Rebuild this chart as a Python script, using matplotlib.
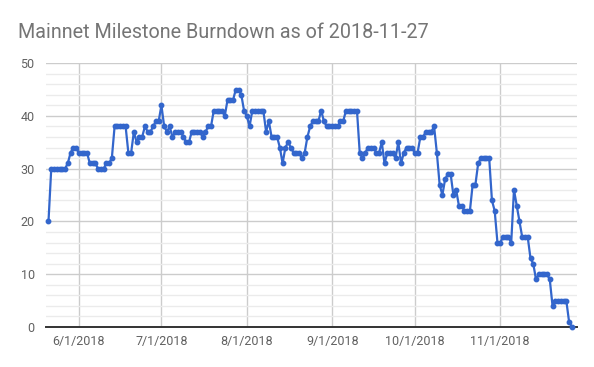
import matplotlib
matplotlib.use("Agg")
import matplotlib.pyplot as plt
import matplotlib.dates as mdates
from matplotlib.ticker import MultipleLocator
import pandas as pd

plt.rcParams['font.family'] = ['Roboto', 'DejaVu Sans']

title = "Mainnet Milestone Burndown as of 2018-11-27"
start_date = "2018-05-21"
end_date = "2018-11-27"
open_issues = [
    20, 30, 30, 30, 30, 30, 30, 31, 33, 34,
    34, 33, 33, 33, 33, 31, 31, 31, 30, 30,
    30, 31, 31, 32, 38, 38, 38, 38, 38, 33,
    33, 37, 35, 36, 36, 38, 37, 37, 38, 39,
    39, 42, 38, 37, 38, 36, 37, 37, 37, 36,
    35, 35, 37, 37, 37, 37, 36, 37, 38, 38,
    41, 41, 41, 41, 40, 43, 43, 43, 45, 45,
    44, 41, 40, 38, 41, 41, 41, 41, 41, 37,
    39, 36, 36, 36, 34, 31, 34, 35, 34, 33,
    33, 33, 32, 33, 36, 38, 39, 39, 39, 41,
    39, 38, 38, 38, 38, 38, 39, 39, 41, 41,
    41, 41, 41, 33, 32, 33, 34, 34, 34, 33,
    33, 35, 31, 33, 33, 33, 32, 35, 31, 33,
    34, 34, 34, 33, 33, 36, 36, 37, 37, 37,
    38, 33, 27, 25, 28, 29, 29, 25, 26, 23,
    23, 22, 22, 22, 27, 27, 31, 32, 32, 32,
    32, 24, 22, 16, 16, 17, 17, 17, 16, 26,
    23, 20, 17, 17, 17, 13, 12, 9, 10, 10,
    10, 10, 9, 4, 5, 5, 5, 5, 5, 1,
    0,
]
dates = pd.date_range(start_date, end_date, freq="D")
x_tick_dates = ["2018-06-01", "2018-07-01", "2018-08-01", "2018-09-01", "2018-10-01", "2018-11-01"]
x_tick_labels = ["6/1/2018", "7/1/2018", "8/1/2018", "9/1/2018", "10/1/2018", "11/1/2018"]
y_ticks = [0, 10, 20, 30, 40, 50]

fig = plt.figure(figsize=(5.94, 3.67), dpi=100)
ax = fig.add_axes([0.077, 0.109, 0.894, 0.719])

ax.plot(dates, open_issues, color="#3366cc", linewidth=1.6, marker="o",
        markersize=3.2, zorder=3, clip_on=False)

ax.set_ylim(0, 50)
ax.set_xlim(pd.Timestamp(start_date) - pd.Timedelta(days=1),
            pd.Timestamp(end_date) + pd.Timedelta(days=1.8))

ax.set_yticks(y_ticks)
ax.yaxis.set_minor_locator(MultipleLocator(2))
ax.set_xticks(pd.to_datetime(x_tick_dates))
ax.set_xticklabels(x_tick_labels)

ax.grid(True, which="major", axis="both", color="#cccccc", linewidth=1.0, zorder=0)
ax.grid(True, which="minor", axis="y", color="#ebebeb", linewidth=1.0, zorder=0)
ax.set_axisbelow(True)

for s in ["top", "right", "left"]:
    ax.spines[s].set_visible(False)
ax.spines["bottom"].set_color("#333333")
ax.spines["bottom"].set_linewidth(1.4)
ax.spines["bottom"].set_zorder(2)

ax.tick_params(axis="both", which="both", length=0, labelsize=9, labelcolor="#616161")
ax.tick_params(axis="y", pad=8)
ax.tick_params(axis="x", pad=6)

fig.text(0.030, 0.912, title, fontsize=14.25, color="#757575", ha="left", va="center")

fig.savefig("out.png", dpi=100)
